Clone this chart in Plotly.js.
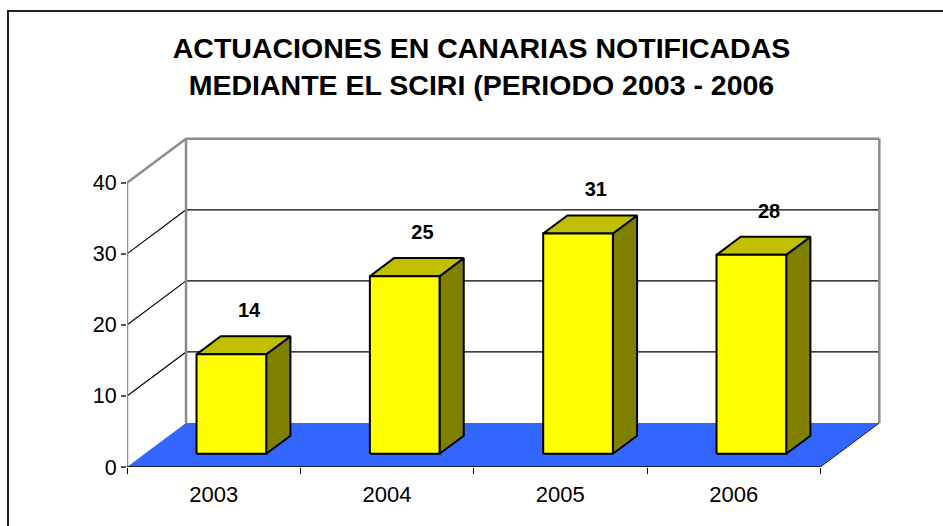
<!DOCTYPE html>
<html>
<head>
<meta charset="utf-8">
<script src="https://cdn.plot.ly/plotly-3.0.1.min.js"></script>
<style>
  html, body { margin: 0; padding: 0; background: #fff; }
  #wrap { position: relative; width: 943px; height: 526px; overflow: hidden; }
  #chart { width: 943px; height: 526px; }
  #frame { position: absolute; left: 7px; top: 10px; width: 1000px; height: 600px;
           border-left: 2px solid #222; border-top: 2px solid #222; pointer-events: none; }
</style>
</head>
<body>
<div id="wrap"><div id="chart"></div><div id="frame"></div></div>
<script>
// ---- data ----
const categories = ["2003", "2004", "2005", "2006"];
const values = [14, 25, 31, 28];
const yTicks = [0, 10, 20, 30, 40];
const titleText = "ACTUACIONES EN CANARIAS NOTIFICADAS<br>MEDIANTE EL SCIRI (PERIODO 2003 - 2006";

// ---- pseudo-3D geometry (in axis units) ----
const DX = 0.3405;   // depth shift along x for full depth
const DY = 6.2;      // depth shift along y for full depth
const F0 = 0.30, F1 = 0.71;   // bar front / back depth fractions
const HW = 0.201;             // bar half width
const YMAX = 40;
const xL = -0.5, xR = categories.length - 0.5;

const FONT = "Liberation Sans, Arial, Helvetica, sans-serif";
const traces = [];
function poly(xs, ys, fill, lineColor, lineWidth, xaxis) {
  traces.push({
    type: "scatter", mode: "lines", x: xs, y: ys,
    fill: fill ? "toself" : "none", fillcolor: fill || undefined,
    line: { color: lineColor || "rgba(0,0,0,0)", width: lineWidth || 0 },
    hoverinfo: "skip", showlegend: false, xaxis: xaxis || "x"
  });
}

// floor
poly([xL, xR, xR + DX, xL + DX, xL], [0, 0, DY, DY, 0], "#3366FF", null, 0);
// floor right edge
poly([xR, xR + DX], [0, DY], null, "#1a1a4d", 1);

// gridlines (side wall diagonals and back wall)
yTicks.filter(v => v > 0 && v < YMAX).forEach(v => {
  poly([xL, xL + DX], [v, v + DY], null, "#000", 1.2);
  poly([xL + DX, xR + DX], [v + DY, v + DY], null, "#000", 1.2);
});

// wall edges (gray)
const G = "#8c8c8c";
poly([xL, xL], [0, YMAX], null, G, 2.5);
poly([xL, xL + DX], [YMAX, YMAX + DY], null, G, 2.5);
poly([xL + DX, xL + DX], [DY, YMAX + DY], null, G, 2.5);
poly([xL + DX, xR + DX], [YMAX + DY, YMAX + DY], null, G, 2.5);
poly([xR + DX, xR + DX], [DY, YMAX + DY], null, G, 2.5);

// floor front edge (axis line)
poly([xL, xR], [0, 0], null, "#1a1a33", 2);

// bars
values.forEach((v, i) => {
  const x0 = i - HW + F0 * DX, x1 = i + HW + F0 * DX;
  const bx0 = i - HW + F1 * DX, bx1 = i + HW + F1 * DX;
  const y0 = F0 * DY, yb = F1 * DY;
  // side face
  poly([x1, bx1, bx1, x1, x1], [y0, yb, v + yb, v + y0, y0], "#808000", "#000", 2);
  // top face
  poly([x0, x1, bx1, bx0, x0], [v + y0, v + y0, v + yb, v + yb, v + y0], "#C0C000", "#000", 2);
  // front face
  poly([x0, x1, x1, x0, x0], [y0, y0, v + y0, v + y0, y0], "#FFFF00", "#000", 2);
});

// data labels
traces.push({
  type: "scatter", mode: "text",
  x: values.map((v, i) => i + 0.6 * DX),
  y: values.map(v => v + F1 * DY + 3.4),
  text: values.map(String),
  textposition: "middle center",
  textfont: { family: FONT, size: 20, color: "#000", weight: "bold" },
  hoverinfo: "skip", showlegend: false, cliponaxis: false
});

// dummy trace for the boundary-tick axis
traces.push({ type: "scatter", mode: "markers", x: [0], y: [0], xaxis: "x2",
  marker: { opacity: 0 }, hoverinfo: "skip", showlegend: false });

const layout = {
  width: 943, height: 526,
  margin: { l: 127, r: 36, t: 126, b: 59, pad: 0 },
  paper_bgcolor: "#fff", plot_bgcolor: "#fff",
  showlegend: false,
  title: {
    text: titleText,
    font: { family: FONT, size: 28.5, color: "#000", weight: "bold" },
    xref: "container", yref: "container",
    x: 0.5106, y: 1 - 58 / 526, xanchor: "center", yanchor: "middle"
  },
  xaxis: {
    range: [xL, xR + 0.5], fixedrange: true,
    tickmode: "array", tickvals: categories.map((c, i) => i), ticktext: categories,
    ticks: "outside", ticklen: 8, tickcolor: "rgba(0,0,0,0)",
    tickfont: { family: FONT, size: 22, color: "#000" },
    showgrid: false, zeroline: false, showline: false
  },
  xaxis2: {
    overlaying: "x", anchor: "y", side: "bottom",
    range: [xL, xR + 0.5], fixedrange: true,
    tickmode: "array", tickvals: categories.map((c, i) => i - 0.5).concat([xR]),
    ticks: "outside", ticklen: 6, tickcolor: "#000", tickwidth: 1,
    showticklabels: false, showgrid: false, zeroline: false, showline: false
  },
  yaxis: {
    range: [0, 48], fixedrange: true,
    tickmode: "array", tickvals: yTicks, ticktext: yTicks.map(String),
    ticks: "outside", ticklen: 5, tickcolor: "#555", tickwidth: 1.5,
    tickfont: { family: FONT, size: 21.5, color: "#000" },
    showgrid: false, zeroline: false, showline: false
  }
};

Plotly.newPlot("chart", traces, layout, { displayModeBar: false, staticPlot: true });
</script>
</body>
</html>
